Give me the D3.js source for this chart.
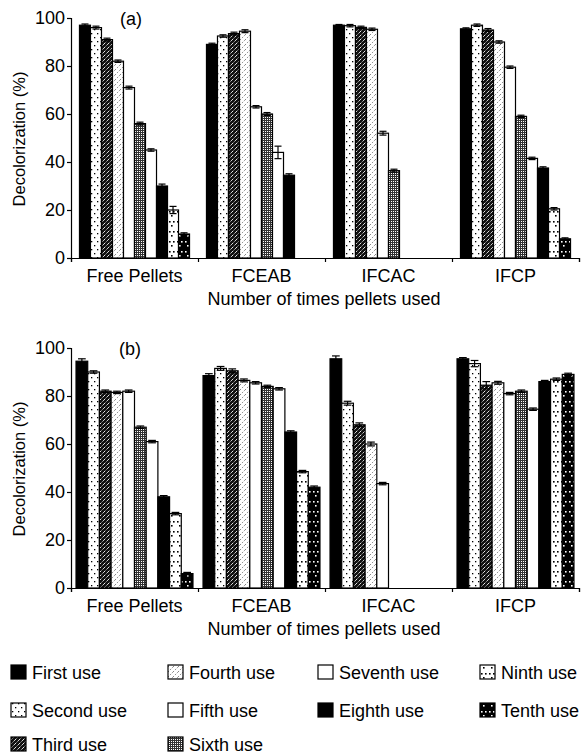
<!DOCTYPE html>
<html>
<head>
<meta charset="utf-8">
<script src="https://cdn.jsdelivr.net/npm/d3@7"></script>
<style>
  body { margin: 0; background: #fff; }
  svg { display: block; font-family: "Liberation Sans", Arial, sans-serif; }
  .axis path, .axis line { stroke: #000; stroke-width: 1.2; }
  .axis text { font-size: 18px; fill: #000; font-family: "Liberation Sans", Arial, sans-serif; }
</style>
</head>
<body>
<svg id="chart" width="581" height="753"></svg>
<script>
// categories and series
var categories = ['Free Pellets', 'FCEAB', 'IFCAC', 'IFCP'];
var uses = ['First use', 'Second use', 'Third use', 'Fourth use', 'Fifth use',
            'Sixth use', 'Seventh use', 'Eighth use', 'Ninth use', 'Tenth use'];
var yTicks = [0, 20, 40, 60, 80, 100];

// panel (a): decolorization per use, one array per pellet type
var freeA  = [97, 96, 91, 82, 71, 56, 45, 30, 20, 10];
var fceabA = [89, 92.5, 93.5, 94.5, 63, 60, 44, 34.5, null, null];
var ifcacA = [97, 96.8, 96.1, 95.3, 52, 36.4, null, null, null, null];
var ifcpA  = [95.5, 97, 95, 90, 79.5, 59, 41.5, 37.5, 20.5, 8];
var errA = [
    [0.5, 0.6, 0.6, 0.5, 0.6, 0.6, 0.5, 0.8, 1.5, 0.5],
    [0.5, 0.5, 0.6, 0.6, 0.5, 0.6, 2.6, 0.6, 0, 0],
    [0.3, 0.5, 0.5, 0.5, 0.8, 0.6, 0, 0, 0, 0],
    [0.4, 0.5, 0.6, 0.5, 0.5, 0.5, 0.5, 0.5, 0.5, 0.4]
];

// panel (b)
var freeB  = [94.5, 90, 82, 81.5, 82, 67, 61, 38, 31, 6];
var fceabB = [88.5, 91.5, 90.5, 86.5, 85.5, 84, 83, 65, 48.5, 42];
var ifcacB = [95.5, 77, 68, 60, 43.5, null, null, null, null, null];
var ifcpB  = [95.5, 93.5, 84.5, 85.5, 81, 82, 74.5, 86, 87, 89];
var errB = [
    [1, 0.5, 0.5, 0.5, 0.5, 0.5, 0.5, 0.5, 0.5, 0.5],
    [0.8, 0.8, 0.8, 0.6, 0.5, 0.5, 0.5, 0.5, 0.5, 0.5],
    [1.2, 0.8, 0.8, 0.8, 0.5, 0, 0, 0, 0, 0],
    [0.5, 1.3, 1.5, 0.6, 0.5, 0.5, 0.5, 0.5, 0.5, 0.5]
];

var svg = d3.select('#chart');
var defs = svg.append('defs');

// fill patterns, one per use
function makePattern(id, w, h, bg, draw) {
    var p = defs.append('pattern')
        .attr('id', id)
        .attr('patternUnits', 'userSpaceOnUse')
        .attr('width', w)
        .attr('height', h);
    p.append('rect').attr('width', w).attr('height', h).attr('fill', bg);
    if (draw) { draw(p); }
}

function dots(p, pts, r, color) {
    pts.forEach(function (d) {
        p.append('rect').attr('x', d[0]).attr('y', d[1]).attr('width', r).attr('height', r).attr('fill', color);
    });
}

makePattern('p0', 4, 4, '#000');
makePattern('p1', 6, 8, '#fff', function (p) { dots(p, [[1, 1], [4, 5]], 1.3, '#000'); });
makePattern('p2', 4, 4, '#111', function (p) {
    p.append('path').attr('d', 'M0,4 L4,0').attr('stroke', '#fff').attr('stroke-width', 0.9).attr('stroke-dasharray', '2,1.5');
});
makePattern('p3', 5, 5, '#fff', function (p) {
    p.append('path').attr('d', 'M0,5 L5,0').attr('stroke', '#777').attr('stroke-width', 0.9).attr('stroke-dasharray', '1.5,1.5');
});
makePattern('p4', 4, 4, '#fff');
makePattern('p5', 2, 2, '#fff', function (p) {
    p.append('rect').attr('width', 1).attr('height', 2).attr('fill', '#333');
    p.append('rect').attr('width', 2).attr('height', 1).attr('fill', '#333');
});
makePattern('p6', 4, 4, '#fff');
makePattern('p7', 4, 4, '#000');
makePattern('p8', 8, 10, '#fff', function (p) { dots(p, [[1, 1], [5, 1], [3, 5]], 1.6, '#000'); });
makePattern('p9', 8, 10, '#000', function (p) { dots(p, [[1, 1], [5, 1], [3, 5]], 1.6, '#fff'); });

var x0 = d3.scaleBand().domain(categories).range([71, 579]);
var xTick = d3.scaleLinear().domain([0, 4]).range([71, 579]);

function drawPanel(top, label, groups, errs, outer, labelX) {
    var bottom = top + 240;
    var y = d3.scaleLinear().domain([0, 100]).range([bottom, top]);
    var x1 = d3.scaleBand().domain(d3.range(10)).range([0, x0.bandwidth()]).paddingOuter(outer);
    var g = svg.append('g');

    var rows = [];
    groups.forEach(function (vals, ci) {
        vals.forEach(function (v, si) {
            if (v !== null) {
                rows.push({ cat: categories[ci], s: si, v: v, e: errs[ci][si] });
            }
        });
    });

    g.selectAll('rect.bar').data(rows).enter().append('rect')
        .attr('class', 'bar')
        .attr('x', function (d) { return x0(d.cat) + x1(d.s); })
        .attr('y', function (d) { return y(d.v); })
        .attr('width', x1.bandwidth())
        .attr('height', function (d) { return bottom - y(d.v); })
        .attr('fill', function (d) { return 'url(#p' + d.s + ')'; })
        .attr('stroke', '#000')
        .attr('stroke-width', 1.2);

    var eb = g.selectAll('g.err').data(rows.filter(function (d) { return d.e > 0; }))
        .enter().append('g').attr('class', 'err')
        .attr('stroke', '#000').attr('stroke-width', 1.2);
    eb.append('line')
        .attr('x1', function (d) { return x0(d.cat) + x1(d.s) + x1.bandwidth() / 2; })
        .attr('x2', function (d) { return x0(d.cat) + x1(d.s) + x1.bandwidth() / 2; })
        .attr('y1', function (d) { return y(d.v + d.e); })
        .attr('y2', function (d) { return y(d.v - d.e); });
    eb.append('line')
        .attr('x1', function (d) { return x0(d.cat) + x1(d.s) + 2; })
        .attr('x2', function (d) { return x0(d.cat) + x1(d.s) + x1.bandwidth() - 2; })
        .attr('y1', function (d) { return y(d.v + d.e); })
        .attr('y2', function (d) { return y(d.v + d.e); });
    eb.append('line')
        .attr('x1', function (d) { return x0(d.cat) + x1(d.s) + 2; })
        .attr('x2', function (d) { return x0(d.cat) + x1(d.s) + x1.bandwidth() - 2; })
        .attr('y1', function (d) { return y(d.v - d.e); })
        .attr('y2', function (d) { return y(d.v - d.e); });

    // axes
    g.append('g').attr('class', 'axis')
        .attr('transform', 'translate(71,0)')
        .call(d3.axisLeft(y).tickValues(yTicks).tickSize(4).tickPadding(2));
    g.append('g').attr('class', 'axis')
        .attr('transform', 'translate(0,' + bottom + ')')
        .call(d3.axisBottom(xTick).tickValues([0, 1, 2, 3, 4]).tickSize(4).tickFormat(''));

    g.selectAll('text.cat').data(categories).enter().append('text')
        .attr('class', 'cat')
        .attr('x', function (d) { return x0(d) + x0.bandwidth() / 2; })
        .attr('y', bottom + 24)
        .attr('text-anchor', 'middle')
        .attr('font-size', 18)
        .text(function (d) { return d; });

    g.append('text')
        .attr('x', 324).attr('y', bottom + 47)
        .attr('text-anchor', 'middle').attr('font-size', 18)
        .text('Number of times pellets used');

    g.append('text')
        .attr('transform', 'translate(25,' + (top + 121) + ') rotate(-90)')
        .attr('text-anchor', 'middle').attr('font-size', 16.5)
        .text('Decolorization (%)');

    g.append('text')
        .attr('x', labelX).attr('y', top + 7)
        .attr('font-size', 18)
        .text(label);
}

drawPanel(18, '(a)', [freeA, fceabA, ifcacA, ifcpA], errA, 0.77, 120);
drawPanel(348, '(b)', [freeB, fceabB, ifcacB, ifcpB], errB, 0.43, 119);

// legend, filled column by column
var legCols = [11, 168, 318, 480];
var legRows = [672, 710, 744];
var legendItems = uses.map(function (u, i) {
    var col = i < 3 ? 0 : i < 6 ? 1 : i < 8 ? 2 : 3;
    var row = i < 3 ? i : i < 6 ? i - 3 : i < 8 ? i - 6 : i - 8;
    return { name: u, i: i, col: col, row: row };
});
var leg = svg.append('g').selectAll('g').data(legendItems).enter().append('g')
    .attr('transform', function (d) { return 'translate(' + legCols[d.col] + ',' + legRows[d.row] + ')'; });
leg.append('rect')
    .attr('x', 0).attr('y', -7).attr('width', 15).attr('height', 14)
    .attr('fill', function (d) { return 'url(#p' + d.i + ')'; })
    .attr('stroke', '#000').attr('stroke-width', 1.2);
leg.append('text')
    .attr('x', 21).attr('y', 6.5)
    .attr('font-size', 18)
    .text(function (d) { return d.name; });
</script>
</body>
</html>
